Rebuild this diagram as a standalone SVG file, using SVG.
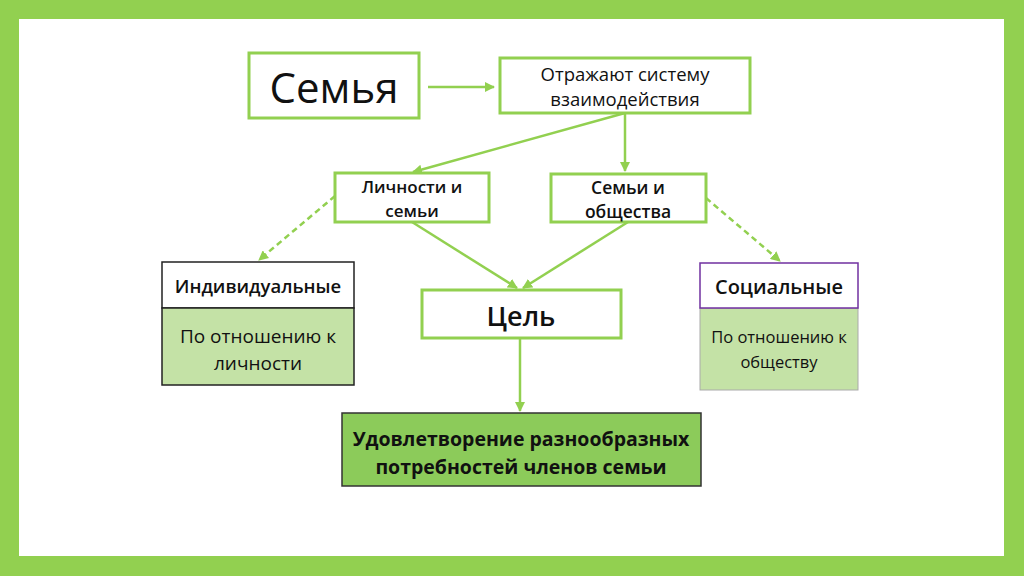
<svg xmlns="http://www.w3.org/2000/svg" width="1024" height="576" viewBox="0 0 1024 576">
<defs>
<marker id="ah" viewBox="0 0 10 10" refX="9" refY="5" markerWidth="4" markerHeight="4" orient="auto" markerUnits="strokeWidth"><path d="M0,0 L10,5 L0,10 z" fill="#92D050"/></marker>
<style>
.g{fill:#fff;stroke:#92D050;stroke-width:3}
.t{font-family:"Open Sans","Liberation Sans",sans-serif;fill:#111;text-anchor:middle}
.c{stroke:#92D050;stroke-width:2.5;fill:none}
.d{stroke:#92D050;stroke-width:2.5;fill:none;stroke-dasharray:6,4}
</style>
</defs>
<rect x="0" y="0" width="1024" height="576" fill="#92D050"/>
<rect x="19" y="19" width="985" height="537" fill="#fff"/>
<g id="connectors">
<line class="c" x1="428" y1="87" x2="494" y2="87" marker-end="url(#ah)"/>
<line class="c" x1="625" y1="113" x2="625" y2="171" marker-end="url(#ah)"/>
<line class="c" x1="625" y1="113" x2="413" y2="172" marker-end="url(#ah)"/>
<line class="d" x1="335" y1="196" x2="259" y2="260" marker-end="url(#ah)"/>
<line class="d" x1="706" y1="198" x2="780" y2="261" marker-end="url(#ah)"/>
<line class="c" x1="412" y1="222" x2="517" y2="288" marker-end="url(#ah)"/>
<line class="c" x1="628" y1="222" x2="523" y2="288" marker-end="url(#ah)"/>
<line class="c" x1="520" y1="338" x2="520" y2="411" marker-end="url(#ah)"/>
</g>
<g id="semya">
<rect class="g" x="249" y="53" width="170" height="65"/>
<text class="t" x="334" y="103" font-size="42">Семья</text>
</g>
<g id="otrazhayut">
<rect class="g" x="500" y="58" width="250" height="55"/>
<text class="t" x="625" y="81" font-size="18.5">Отражают систему</text>
<text class="t" x="625" y="106" font-size="18.5">взаимодействия</text>
</g>
<g id="lichnosti">
<rect class="g" x="335" y="173" width="154" height="49"/>
<text class="t" x="412" y="193" font-size="17" font-weight="600">Личности и</text>
<text class="t" x="412" y="217" font-size="17" font-weight="600">семьи</text>
</g>
<g id="obshchestva">
<rect class="g" x="551" y="174" width="155" height="48"/>
<text class="t" x="628" y="194" font-size="17.5" font-weight="600">Семьи и</text>
<text class="t" x="628" y="218" font-size="17.5" font-weight="600">общества</text>
</g>
<g id="individualnye">
<rect x="162" y="262" width="192" height="46" fill="#fff" stroke="#222" stroke-width="1.5"/>
<rect x="162" y="308" width="192" height="77" fill="#C4E2A6" stroke="#222" stroke-width="1.5"/>
<text class="t" x="258" y="293" font-size="18.5" font-weight="600">Индивидуальные</text>
<text class="t" x="258" y="343" font-size="19">По отношению к</text>
<text class="t" x="258" y="370" font-size="19">личности</text>
</g>
<g id="socialnye">
<rect x="700" y="308" width="158" height="82" fill="#C4E2A6" stroke="#aaa" stroke-width="1"/>
<rect x="700" y="263" width="158" height="45" fill="#fff" stroke="#7030A0" stroke-width="1.5"/>
<text class="t" x="779" y="294" font-size="20" font-weight="600">Социальные</text>
<text class="t" x="779" y="343" font-size="16.5">По отношению к</text>
<text class="t" x="779" y="368" font-size="16.5">обществу</text>
</g>
<g id="cel">
<rect class="g" x="422" y="290" width="199" height="48"/>
<text class="t" x="521" y="326" font-size="27" font-weight="600">Цель</text>
</g>
<g id="udovletvorenie">
<rect x="342" y="413" width="359" height="73" fill="#8CCB5A" stroke="#333" stroke-width="1.5"/>
<text class="t" x="521" y="446" font-size="19.5" font-weight="bold">Удовлетворение разнообразных</text>
<text class="t" x="521" y="474" font-size="19.5" font-weight="bold">потребностей членов семьи</text>
</g>
</svg>
